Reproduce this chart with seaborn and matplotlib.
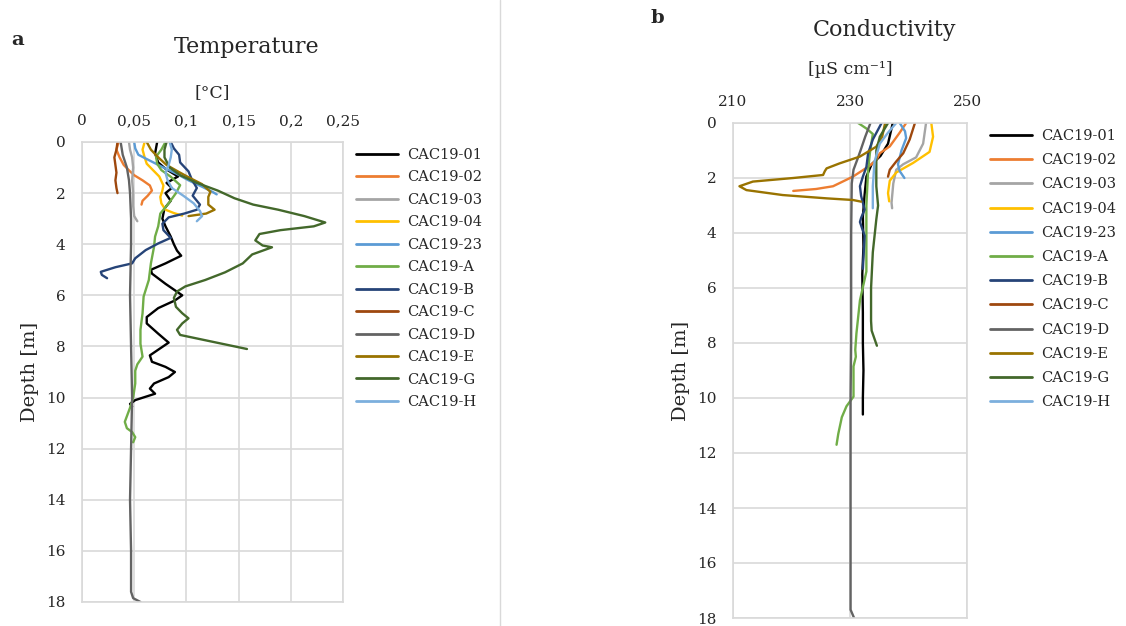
import pandas as pd
import matplotlib
matplotlib.use('Agg')
import matplotlib.pyplot as plt
from matplotlib.lines import Line2D
import seaborn as sns

# stations and colours (Excel office palette)
stations = ['CAC19-01', 'CAC19-02', 'CAC19-03', 'CAC19-04', 'CAC19-23', 'CAC19-A',
            'CAC19-B', 'CAC19-C', 'CAC19-D', 'CAC19-E', 'CAC19-G', 'CAC19-H']
colors = ['#000000', '#ED7D31', '#A5A5A5', '#FFC000', '#5B9BD5', '#70AD47',
          '#264478', '#9E480E', '#636363', '#997300', '#43682B', '#7CAFDD']

# ---- temperature profiles: depth [m] / temperature [°C]
t_depth_01 = [0, 0.45, 0.8, 1.05, 1.35, 1.6, 1.8, 2.0, 2.3, 2.6, 3.0, 3.3, 3.7, 4.0, 4.25, 4.45, 4.75, 5.0, 5.15,
              5.55, 6.0, 6.2, 6.5, 6.85, 7.1, 7.5, 7.85, 8.35, 8.6, 8.8, 9.0, 9.2, 9.45, 9.65, 9.85, 10.1, 10.25, 10.35]
t_val_01 = [0.072, 0.070, 0.073, 0.080, 0.092, 0.081, 0.086, 0.080, 0.085, 0.079, 0.077, 0.080, 0.085, 0.088, 0.091,
            0.095, 0.080, 0.066, 0.067, 0.080, 0.096, 0.089, 0.073, 0.062, 0.062, 0.073, 0.083, 0.065, 0.067, 0.080,
            0.089, 0.083, 0.069, 0.065, 0.070, 0.051, 0.046, 0.048]
t_depth_02 = [0, 0.3, 0.6, 0.9, 1.15, 1.3, 1.5, 1.7, 1.9, 2.1, 2.3, 2.45]
t_val_02 = [0.035, 0.033, 0.036, 0.040, 0.046, 0.050, 0.058, 0.065, 0.067, 0.063, 0.058, 0.057]
t_depth_03 = [0, 0.3, 0.6, 1.0, 1.5, 2.0, 2.5, 2.9, 3.1]
t_val_03 = [0.045, 0.046, 0.048, 0.049, 0.048, 0.049, 0.049, 0.050, 0.053]
t_depth_04 = [0, 0.3, 0.6, 0.85, 1.1, 1.35, 1.7, 1.9, 2.15, 2.4, 2.65, 2.78, 2.88]
t_val_04 = [0.060, 0.058, 0.060, 0.062, 0.068, 0.074, 0.078, 0.077, 0.075, 0.076, 0.080, 0.088, 0.096]
t_depth_23 = [0, 0.25, 0.5, 0.75, 1.0, 1.25, 1.5, 1.75, 1.95, 2.05]
t_val_23 = [0.050, 0.051, 0.054, 0.066, 0.078, 0.091, 0.102, 0.115, 0.125, 0.129]
t_depth_A = [0, 0.3, 0.57, 0.85, 1.1, 1.36, 1.69, 2.0, 2.4, 2.8, 3.3, 3.7, 4.1, 4.75, 5.4, 6.05, 6.7, 7.35, 7.9,
             8.4, 8.7, 8.95, 9.45, 10.0, 10.4, 10.95, 11.2, 11.35, 11.55, 11.75]
t_val_A = [0.080, 0.076, 0.071, 0.072, 0.076, 0.085, 0.094, 0.090, 0.083, 0.075, 0.073, 0.070, 0.069, 0.066, 0.064,
           0.059, 0.058, 0.056, 0.056, 0.058, 0.053, 0.051, 0.051, 0.049, 0.046, 0.041, 0.043, 0.048, 0.051, 0.049]
t_depth_B = [0, 0.25, 0.5, 0.8, 1.15, 1.45, 1.8, 2.1, 2.45, 2.65, 2.8, 2.95, 3.2, 3.45, 3.75, 3.97, 4.23, 4.55,
             4.75, 4.9, 5.08, 5.2, 5.33]
t_val_B = [0.085, 0.088, 0.093, 0.094, 0.102, 0.105, 0.110, 0.106, 0.113, 0.110, 0.098, 0.083, 0.077, 0.078, 0.085,
           0.073, 0.061, 0.051, 0.048, 0.032, 0.018, 0.019, 0.024]
t_depth_C = [0, 0.3, 0.6, 0.9, 1.2, 1.5, 1.8, 2.0]
t_val_C = [0.034, 0.033, 0.031, 0.032, 0.033, 0.032, 0.033, 0.034]
t_depth_D = [0, 0.5, 1.0, 1.5, 2.0, 3.0, 4, 6, 8, 10, 12, 14, 16, 17.6, 17.85, 18.0]
t_val_D = [0.037, 0.039, 0.043, 0.045, 0.046, 0.047, 0.047, 0.046, 0.047, 0.048, 0.047, 0.046, 0.047, 0.047,
           0.049, 0.056]
t_depth_E = [0, 0.3, 0.6, 0.9, 1.2, 1.4, 1.65, 1.95, 2.15, 2.45, 2.65, 2.8, 2.9]
t_val_E = [0.062, 0.066, 0.073, 0.081, 0.094, 0.103, 0.115, 0.123, 0.121, 0.121, 0.127, 0.119, 0.102]
t_depth_G = [0, 0.3, 0.6, 1.0, 1.3, 1.6, 1.9, 2.2, 2.45, 2.65, 2.9, 3.15, 3.3, 3.45, 3.6, 3.85, 4.05, 4.12, 4.4,
             4.75, 5.1, 5.4, 5.65, 5.85, 6.1, 6.45, 6.7, 6.9, 7.1, 7.35, 7.55, 8.1]
t_val_G = [0.081, 0.079, 0.079, 0.084, 0.094, 0.110, 0.130, 0.146, 0.164, 0.188, 0.213, 0.233, 0.222, 0.190, 0.170,
           0.166, 0.173, 0.182, 0.163, 0.154, 0.137, 0.118, 0.099, 0.091, 0.088, 0.090, 0.096, 0.102, 0.096, 0.091,
           0.094, 0.158]
t_depth_H = [0, 0.3, 0.6, 0.9, 1.2, 1.5, 1.8, 2.1, 2.4, 2.7, 2.9, 3.1]
t_val_H = [0.084, 0.086, 0.085, 0.083, 0.080, 0.082, 0.086, 0.097, 0.107, 0.113, 0.115, 0.110]

# ---- conductivity profiles: depth [m] / conductivity [µS/cm]
c_depth_01 = [0, 0.2, 0.75, 1.2, 1.5, 1.95, 2.6, 3.4, 4.5, 5.5, 6.9, 8, 9, 10, 10.6]
c_val_01 = [237.3, 237.1, 236.5, 235.2, 233.7, 232.8, 232.5, 232.2, 232.3, 232.1, 232.2, 232.2, 232.3, 232.2, 232.2]
c_depth_02 = [0, 0.35, 0.85, 1.1, 1.35, 1.55, 1.95, 2.3, 2.4, 2.47]
c_val_02 = [239.6, 238.5, 236.8, 235.1, 234.5, 233.4, 230.5, 227.1, 224.2, 220.3]
c_depth_03 = [0, 0.75, 1.25, 1.5, 1.7, 2.2, 2.9, 3.1]
c_val_03 = [243.0, 242.5, 241.3, 239.1, 237.9, 237.4, 237.1, 237.2]
c_depth_04 = [0, 0.5, 1.05, 1.45, 1.8, 2.1, 2.55, 2.85]
c_val_04 = [243.9, 244.2, 243.6, 240.8, 237.9, 236.8, 236.5, 236.7]
c_depth_23 = [0, 0.3, 0.55, 1.0, 1.5, 1.75, 2.0]
c_val_23 = [238.5, 239.4, 239.6, 238.8, 238.2, 238.5, 239.3]
c_depth_A = [0, 0.2, 0.4, 1.1, 1.7, 3.0, 5.4, 6.45, 7.65, 8.25, 8.5, 8.85, 9.95, 10.3, 10.7, 11.3, 11.7]
c_val_A = [231.4, 232.8, 233.9, 233.4, 233.1, 232.8, 232.8, 231.7, 231.1, 230.9, 231.0, 230.6, 230.6, 229.4, 228.6,
           228.0, 227.7]
c_depth_B = [0, 0.6, 1.1, 1.6, 1.95, 2.3, 2.65, 3.15, 3.45, 3.6, 4.1, 5.3]
c_val_B = [235.4, 233.9, 233.1, 232.8, 232.2, 231.7, 231.9, 232.5, 231.9, 231.7, 232.5, 232.2]
c_depth_C = [0, 0.6, 1.1, 1.4, 1.7, 1.95]
c_val_C = [241.1, 240.2, 239.1, 237.9, 236.8, 236.5]
c_depth_D = [0, 0.5, 1.0, 1.3, 1.7, 2.2, 4, 6, 8, 10, 12, 14, 16, 17.7, 18.0]
c_val_D = [233.5, 232.6, 231.8, 231.3, 230.6, 230.3, 230.2, 230.2, 230.2, 230.1, 230.1, 230.1, 230.1, 230.1, 230.7]
c_depth_E = [0, 0.5, 0.86, 1.22, 1.47, 1.65, 1.75, 1.89, 2.0, 2.13, 2.3, 2.44, 2.62, 2.74, 2.8, 2.86]
c_val_E = [236.0, 235.5, 234.5, 231.7, 228.2, 226.0, 225.7, 225.4, 220.3, 213.4, 211.1, 212.3, 218.5, 226.0,
           230.5, 231.9]
c_depth_G = [0, 0.5, 1.0, 2.3, 3.0, 3.5, 4.7, 6.0, 7.2, 7.55, 8.1]
c_val_G = [236.5, 235.1, 234.5, 234.5, 234.8, 234.5, 233.9, 233.6, 233.6, 233.7, 234.6]
c_depth_H = [0, 0.35, 0.75, 1.4, 2.3, 3.1]
c_val_H = [237.9, 236.5, 235.1, 234.2, 233.9, 233.9]

temp_ticks = [0, 0.05, 0.1, 0.15, 0.2, 0.25]
temp_ticklabels = ['0', '0,05', '0,1', '0,15', '0,2', '0,25']
cond_ticks = [210, 230, 250]
depth_ticks = list(range(0, 20, 2))

t_profiles = [(t_depth_01, t_val_01), (t_depth_02, t_val_02), (t_depth_03, t_val_03), (t_depth_04, t_val_04),
              (t_depth_23, t_val_23), (t_depth_A, t_val_A), (t_depth_B, t_val_B), (t_depth_C, t_val_C),
              (t_depth_D, t_val_D), (t_depth_E, t_val_E), (t_depth_G, t_val_G), (t_depth_H, t_val_H)]
c_profiles = [(c_depth_01, c_val_01), (c_depth_02, c_val_02), (c_depth_03, c_val_03), (c_depth_04, c_val_04),
              (c_depth_23, c_val_23), (c_depth_A, c_val_A), (c_depth_B, c_val_B), (c_depth_C, c_val_C),
              (c_depth_D, c_val_D), (c_depth_E, c_val_E), (c_depth_G, c_val_G), (c_depth_H, c_val_H)]


def long_table(profiles):
    rows = []
    for name, (dep, val) in zip(stations, profiles):
        rows.append(pd.DataFrame({'Station': name, 'Depth': dep, 'Value': val}))
    return pd.concat(rows, ignore_index=True)


df_t = long_table(t_profiles)
df_c = long_table(c_profiles)
palette = dict(zip(stations, colors))

sns.set_style('white')
plt.rcParams['font.family'] = ['DejaVu Serif', 'DejaVu Sans']

W, H = 1126, 626
fig = plt.figure(figsize=(W / 100, H / 100), dpi=100)


def px_box(x0, y0, x1, y1):
    return [x0 / W, 1 - y1 / H, (x1 - x0) / W, (y1 - y0) / H]


grid_col = '#D9D9D9'


def style_axis(ax):
    ax.set_ylim(18, 0)
    ax.set_yticks(depth_ticks)
    ax.xaxis.tick_top()
    ax.tick_params(length=0, labelsize=11, colors='#262626')
    ax.tick_params(axis='x', pad=10)
    ax.tick_params(axis='y', pad=12)
    ax.grid(True, color=grid_col, lw=1.2)
    for sp in ax.spines.values():
        sp.set_color(grid_col)
        sp.set_linewidth(1.2)
    ax.set_xlabel('')
    ax.set_ylabel('Depth [m]', fontsize=14, color='#262626')


# ---- left: temperature
ax1 = fig.add_axes(px_box(82, 142, 343, 602))
sns.lineplot(data=df_t, x='Value', y='Depth', hue='Station', hue_order=stations, palette=palette,
             estimator=None, sort=False, lw=1.7, legend=False, ax=ax1)
ax1.set_xlim(0, 0.25)
ax1.set_xticks(temp_ticks)
ax1.set_xticklabels(temp_ticklabels)
style_axis(ax1)
ax1.yaxis.set_label_coords(-0.165, 0.5)

# ---- right: conductivity
ax2 = fig.add_axes(px_box(733, 123, 967, 618))
sns.lineplot(data=df_c, x='Value', y='Depth', hue='Station', hue_order=stations, palette=palette,
             estimator=None, sort=False, lw=1.7, legend=False, ax=ax2)
ax2.set_xlim(210, 250)
ax2.set_xticks(cond_ticks)
style_axis(ax2)
ax2.yaxis.set_label_coords(-0.185, 0.5)

handles = [Line2D([], [], color=c, lw=2) for c in colors]
ax1.legend(handles, stations, loc='upper left', bbox_to_anchor=(356 / W, 1 - 148 / H),
           bbox_transform=fig.transFigure, frameon=False, fontsize=10.5, handlelength=2.9,
           handletextpad=0.6, labelspacing=0.58, borderpad=0, borderaxespad=0)
ax2.legend(handles, stations, loc='upper left', bbox_to_anchor=(990 / W, 1 - 129 / H),
           bbox_transform=fig.transFigure, frameon=False, fontsize=10.5, handlelength=2.9,
           handletextpad=0.6, labelspacing=0.7, borderpad=0, borderaxespad=0)

# titles, units and panel letters
fig.text(247 / W, 1 - 47 / H, 'Temperature', fontsize=16, ha='center', va='center', color='#262626')
fig.text(212 / W, 1 - 93 / H, '[°C]', fontsize=12.5, ha='center', va='center', color='#262626')
fig.text(885 / W, 1 - 30 / H, 'Conductivity', fontsize=16, ha='center', va='center', color='#262626')
fig.text(850 / W, 1 - 70 / H, '[µS cm⁻¹]', fontsize=12.5, ha='center', va='center', color='#262626')
fig.text(18 / W, 1 - 40 / H, 'a', fontsize=14, fontweight='bold', ha='center', va='center')
fig.text(657 / W, 1 - 18 / H, 'b', fontsize=14, fontweight='bold', ha='center', va='center')

# thin divider between the two panels
fig.add_artist(Line2D([500 / W, 500 / W], [0, 1], transform=fig.transFigure, color=grid_col, lw=1))

fig.savefig('out.png', dpi=100)
